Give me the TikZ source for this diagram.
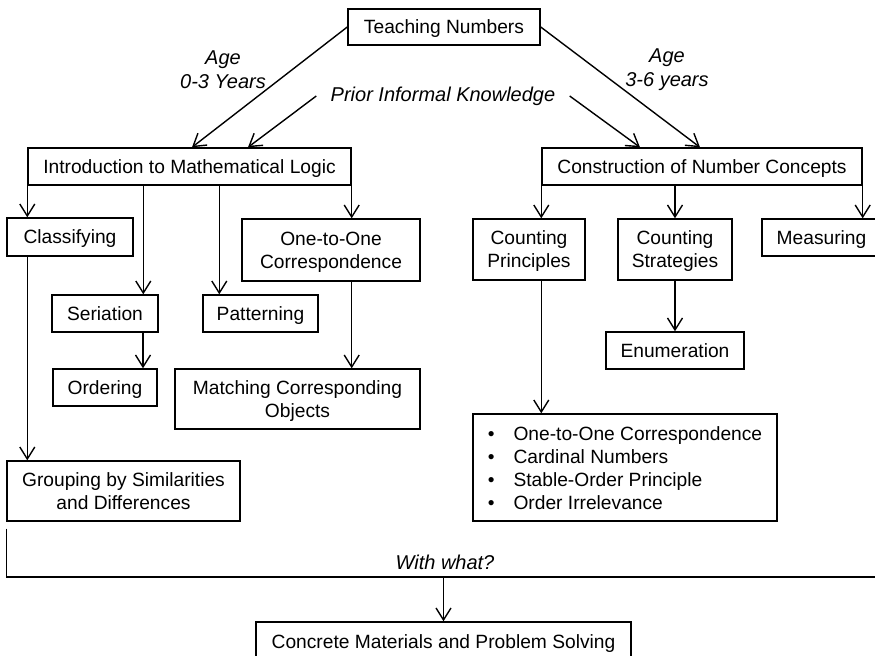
\documentclass[tikz,border=0pt]{standalone}
\usepackage{fontspec}
\setmainfont{Liberation Sans}
\usetikzlibrary{arrows.meta,calc}
\tikzset{
  box/.style={draw, line width=0.7pt, inner sep=2pt, align=center, text depth=0pt},
  lbl/.style={font=\itshape, align=center, inner sep=1pt},
  con/.style={line width=0.7pt, -{Straight Barb[length=6pt,width=7.5pt]}}
}
\begin{document}
\begin{tikzpicture}[x=0.5pt,y=-0.5pt,font=\fontsize{9.6pt}{11.5pt}\selectfont]
  \useasboundingbox (0,0) rectangle (875,656);
  \node[box, minimum width=96pt, minimum height=18pt] (teach) at (444,27) {Teaching Numbers};
  \node[box, minimum width=161.5pt, minimum height=18.5pt] (intro) at (189.5,166.5) {Introduction to Mathematical Logic};
  \node[box, minimum width=160pt, minimum height=18.5pt] (constr) at (702,166.5) {Construction of Number Concepts};
  \node[lbl] (age1) at (223,70) {Age\\0-3 Years};
  \node[lbl] (age2) at (667,70) {Age\\3-6 years};
  \node[lbl, inner xsep=7pt] (prior) at (443,96) {Prior Informal Knowledge};
  \node[box, minimum width=63pt, minimum height=19pt] (classify) at (70,237) {Classifying};
  \node[box, minimum width=53pt, minimum height=18.5pt] (seriation) at (105,313.5) {Seriation};
  \node[box, minimum width=57.5pt, minimum height=18.5pt] (pattern) at (260.5,313.5) {Patterning};
  \node[box, minimum width=89pt, minimum height=31pt] (oneone) at (331,250) {One-to-One\\Correspondence};
  \node[box, minimum width=52pt, minimum height=18.5pt] (ordering) at (105,387.5) {Ordering};
  \node[box, minimum width=122.5pt, minimum height=30pt] (matching) at (297.5,399) {Matching Corresponding\\Objects};
  \node[box, minimum width=116.5pt, minimum height=30pt] (grouping) at (123.5,491) {Grouping by Similarities\\and Differences};
  \node[box, minimum width=56pt, minimum height=30.5pt] (cprin) at (529,249.5) {Counting\\Principles};
  \node[box, minimum width=57pt, minimum height=30.5pt] (cstrat) at (675,249.5) {Counting\\Strategies};
  \node[box, minimum width=59.5pt, minimum height=18.5pt] (measure) at (821.5,237.5) {Measuring};
  \node[box, minimum width=69pt, minimum height=18.5pt] (enum) at (675,350.5) {Enumeration};
  \node[box, text depth=, minimum width=152pt, minimum height=53.5pt] (plist) at (625,467.5) {%
    \raisebox{-1.5pt}[\height][\depth]{\begin{tabular}{@{}l@{\hspace{9.5pt}}l@{}}
      \textbullet & One-to-One Correspondence\\
      \textbullet & Cardinal Numbers\\
      \textbullet & Stable-Order Principle\\
      \textbullet & Order Irrelevance
    \end{tabular}}};
  \node[lbl] (with) at (445,562) {With what?};
  \node[box, minimum width=187.5pt, minimum height=20pt] (final) at (443.5,642) {Concrete Materials and Problem Solving};
  \coordinate (iser) at ($(intro.south west)+(116,0)$);
  \coordinate (ipat) at ($(intro.south west)+(192,0)$);
  \coordinate (sord) at ($(seriation.south)+(38,0)$);
  \coordinate (busend) at (880,577);
  \begin{scope}[con]
    \draw (teach.west) -- ($(intro.north)+(2.5,0)$);
    \draw (prior.west) -- ($(intro.north)+(58.5,0)$);
    \draw (prior.east) -- ($(constr.north)+(-62,0)$);
    \draw (teach.east) -- ($(constr.north)+(-2,0)$);
    \draw (intro.south west) -- (intro.south west |- classify.north);
    \draw (iser) -- (iser |- seriation.north);
    \draw (ipat) -- (ipat |- pattern.north);
    \draw (intro.south east) -- (intro.south east |- oneone.north);
    \draw (sord) -- (sord |- ordering.north);
    \draw (intro.south east |- oneone.south) -- (intro.south east |- matching.north);
    \draw (intro.south west |- classify.south) -- (intro.south west |- grouping.north);
    \draw (constr.south west) -- (constr.south west |- cprin.north);
    \draw (cstrat.north |- constr.south) -- (cstrat.north);
    \draw (constr.south east) -- (constr.south east |- measure.north);
    \draw (cstrat.south) -- (enum.north);
    \draw (constr.south west |- cprin.south) -- (constr.south west |- plist.north);
    \draw (final.north |- busend) -- (final.north);
  \end{scope}
  \draw[line width=0.7pt] ($(grouping.south west)+(0,7)$) |- (busend);
\end{tikzpicture}
\end{document}
